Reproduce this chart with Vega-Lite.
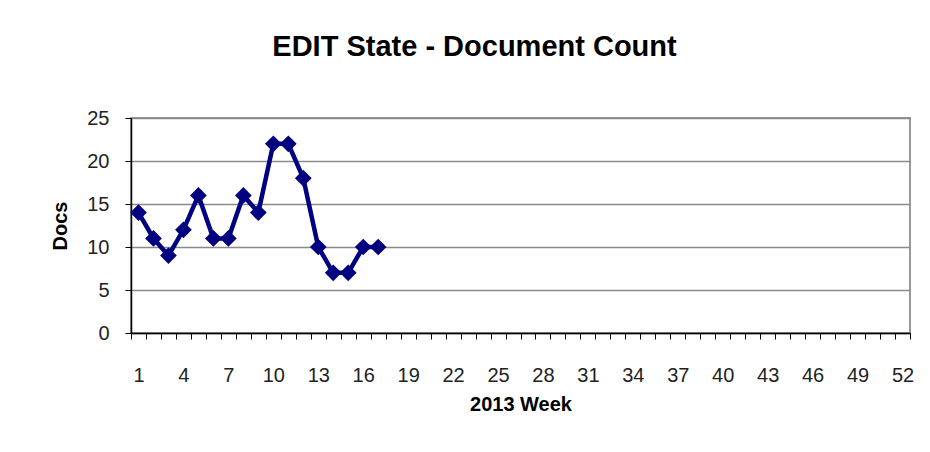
{
  "$schema": "https://vega.github.io/schema/vega-lite/v6.json",
  "autosize": "none",
  "width": 779,
  "height": 215,
  "padding": {"left": 131, "top": 118, "right": 20, "bottom": 119},
  "background": "white",
  "title": {
    "text": "EDIT State - Document Count",
    "font": "Liberation Sans",
    "fontSize": 29,
    "fontWeight": "bold",
    "color": "#000000",
    "anchor": "middle",
    "dx": -46,
    "dy": 39,
    "baseline": "alphabetic",
    "offset": 62
  },
  "config": {
    "view": {"stroke": "#999999", "strokeWidth": 2},
    "font": "Liberation Sans"
  },
  "data": {
    "values": [
      {"week": 1, "docs": 14},
      {"week": 2, "docs": 11},
      {"week": 3, "docs": 9},
      {"week": 4, "docs": 12},
      {"week": 5, "docs": 16},
      {"week": 6, "docs": 11},
      {"week": 7, "docs": 11},
      {"week": 8, "docs": 16},
      {"week": 9, "docs": 14},
      {"week": 10, "docs": 22},
      {"week": 11, "docs": 22},
      {"week": 12, "docs": 18},
      {"week": 13, "docs": 10},
      {"week": 14, "docs": 7},
      {"week": 15, "docs": 7},
      {"week": 16, "docs": 10},
      {"week": 17, "docs": 10}
    ]
  },
  "encoding": {
    "x": {
      "field": "week",
      "type": "ordinal",
      "scale": {
        "domain": [1,2,3,4,5,6,7,8,9,10,11,12,13,14,15,16,17,18,19,20,21,22,23,24,25,26,27,28,29,30,31,32,33,34,35,36,37,38,39,40,41,42,43,44,45,46,47,48,49,50,51,52],
        "paddingInner": 0,
        "paddingOuter": 0
      },
      "axis": {
        "title": "2013 Week",
        "titleFont": "Liberation Sans",
        "titleFontSize": 20,
        "titleFontWeight": "bold",
        "titleColor": "#000000",
        "titlePadding": 9,
        "labelAngle": 0,
        "labelFont": "Liberation Sans",
        "labelFontSize": 20,
        "labelColor": "#222222",
        "labelPadding": 26,
        "labelExpr": "(datum.value - 1) % 3 == 0 ? datum.label : ''",
        "tickBand": "extent",
        "tickSize": 6,
        "tickColor": "#000000",
        "tickWidth": 1,
        "domainColor": "#000000",
        "domainWidth": 1.5,
        "grid": false
      }
    },
    "y": {
      "field": "docs",
      "type": "quantitative",
      "scale": {"domain": [0, 25], "nice": false},
      "axis": {
        "title": "Docs",
        "titleFont": "Liberation Sans",
        "titleFontSize": 20,
        "titleFontWeight": "bold",
        "titleColor": "#000000",
        "titlePadding": 16,
        "values": [0, 5, 10, 15, 20, 25],
        "labelFont": "Liberation Sans",
        "labelFontSize": 20,
        "labelColor": "#222222",
        "labelPadding": 16,
        "tickSize": 6,
        "tickColor": "#000000",
        "domainColor": "#000000",
        "domainWidth": 1.5,
        "grid": true,
        "gridColor": "#8a8a8a",
        "gridWidth": 1.5
      }
    }
  },
  "layer": [
    {
      "mark": {"type": "line", "color": "#000080", "strokeWidth": 4.5}
    },
    {
      "mark": {"type": "point", "shape": "diamond", "filled": true, "color": "#000080", "size": 280, "opacity": 1}
    }
  ]
}
